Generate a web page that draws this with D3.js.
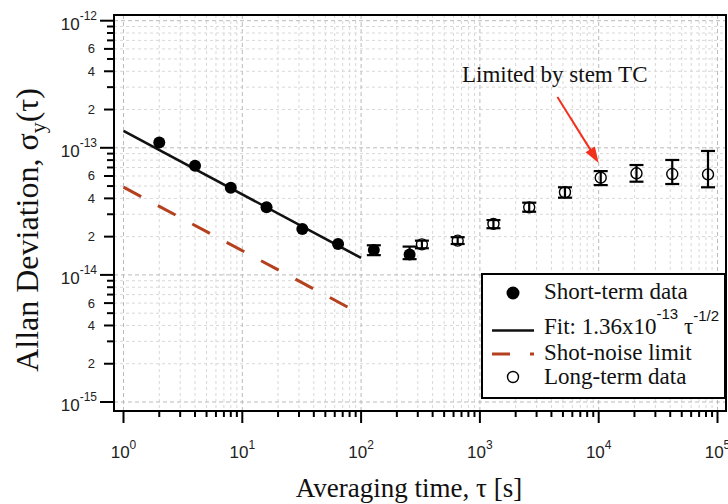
<!DOCTYPE html>
<html><head><meta charset="utf-8">
<script src="https://cdn.jsdelivr.net/npm/d3@7"></script>
<style>body{margin:0;background:#fff}svg{display:block}</style>
</head><body><svg id="c" width="728" height="504"></svg>
<script>
// ---- data ----
const shortTau   = [2, 4, 8, 16, 32, 64, 128, 256];
const shortVal   = [1.10e-13, 7.23e-14, 4.85e-14, 3.40e-14, 2.30e-14, 1.75e-14, 1.57e-14, 1.45e-14];
const shortErrLo = [null, null, null, null, null, null, 1.43e-14, 1.33e-14];
const shortErrHi = [null, null, null, null, null, null, 1.71e-14, 1.67e-14];
const longTau    = [325, 650, 1300, 2600, 5200, 10400, 20800, 41600, 83200];
const longVal    = [1.74e-14, 1.86e-14, 2.52e-14, 3.40e-14, 4.47e-14, 5.82e-14, 6.30e-14, 6.22e-14, 6.18e-14];
const longErrLo  = [1.62e-14, 1.75e-14, 2.33e-14, 3.14e-14, 4.05e-14, 5.09e-14, 5.41e-14, 5.19e-14, 4.89e-14];
const longErrHi  = [1.86e-14, 1.98e-14, 2.70e-14, 3.70e-14, 4.89e-14, 6.56e-14, 7.32e-14, 8.02e-14, 9.44e-14];
const fitTau  = [1, 100];
const fitVal  = [1.36e-13, 1.36e-14];
const shotTau = [1, 100];
const shotVal = [4.9e-14, 4.9e-15];
const xTickExps = [0, 1, 2, 3, 4, 5];
const yTickExps = [-12, -13, -14, -15];
const yMinorLabels = [2, 4, 6];
const legendLabels = ["Short-term data", "Fit: 1.36x10", "Shot-noise limit", "Long-term data"];
const annotText = "Limited by stem TC";
const annotPos = {tau: 707, val: 3.31e-13};
const arrowFrom = {tau: 4490, val: 2.51e-13};
const arrowTo = {tau: 10000, val: 7.6e-14};

// ---- layout ----
const svg = d3.select("#c");
const frame = {l: 114, t: 15, r: 726, b: 411};
const x = d3.scaleLog().domain([1, 1e5]).range([123.5, 717.5]);
const y = d3.scaleLog().domain([1e-15, 1e-12]).range([402, 20.7]);
const sans = "'Liberation Sans', Arial, sans-serif";
const serif = "'Liberation Serif', 'Times New Roman', serif";

const xMinor = [], yMinor = [];
for (let e = 0; e < 5; e++) for (let k = 2; k <= 9; k++) xMinor.push(k * Math.pow(10, e));
for (let e = -15; e < -12; e++) for (let k = 2; k <= 9; k++) yMinor.push(k * Math.pow(10, e));
const xMajor = xTickExps.map(e => Math.pow(10, e));
const yMajor = yTickExps.map(e => Math.pow(10, e));

// ---- grid ----
const grid = svg.append("g");
grid.selectAll(".gxm").data(xMinor).enter().append("line")
  .attr("x1", d => x(d)).attr("x2", d => x(d)).attr("y1", frame.t).attr("y2", frame.b)
  .attr("stroke", "#d8d8d8").attr("stroke-dasharray", "3,3").attr("stroke-width", 1);
grid.selectAll(".gym").data(yMinor).enter().append("line")
  .attr("y1", d => y(d)).attr("y2", d => y(d)).attr("x1", frame.l).attr("x2", frame.r)
  .attr("stroke", "#d8d8d8").attr("stroke-dasharray", "3,3").attr("stroke-width", 1);
grid.selectAll(".gxM").data(xMajor).enter().append("line")
  .attr("x1", d => x(d)).attr("x2", d => x(d)).attr("y1", frame.t).attr("y2", frame.b)
  .attr("stroke", "#bbbbbb").attr("stroke-dasharray", "4,3").attr("stroke-width", 1);
grid.selectAll(".gyM").data(yMajor).enter().append("line")
  .attr("y1", d => y(d)).attr("y2", d => y(d)).attr("x1", frame.l).attr("x2", frame.r)
  .attr("stroke", "#bbbbbb").attr("stroke-dasharray", "4,3").attr("stroke-width", 1);

// ---- ticks ----
const ticks = svg.append("g").attr("stroke", "#000").attr("stroke-width", 2);
ticks.selectAll(".xt").data(xMinor).enter().append("line")
  .attr("x1", d => x(d)).attr("x2", d => x(d)).attr("y1", frame.b).attr("y2", frame.b + 6);
ticks.selectAll(".xT").data(xMajor).enter().append("line")
  .attr("x1", d => x(d)).attr("x2", d => x(d)).attr("y1", frame.b).attr("y2", frame.b + 12);
ticks.selectAll(".yt").data(yMinor).enter().append("line")
  .attr("y1", d => y(d)).attr("y2", d => y(d)).attr("x1", frame.l)
  .attr("x2", d => { const k = Math.round(d / Math.pow(10, Math.floor(Math.log10(d) + 1e-9))); return yMinorLabels.includes(k) ? frame.l - 10 : frame.l - 7; });
ticks.selectAll(".yT").data(yMajor).enter().append("line")
  .attr("y1", d => y(d)).attr("y2", d => y(d)).attr("x1", frame.l).attr("x2", frame.l - 14);

// tick labels
const xl = svg.append("g").attr("font-family", sans).attr("fill", "#222");
xTickExps.forEach(e => {
  const t = xl.append("text").attr("x", x(Math.pow(10, e))).attr("y", 458).attr("text-anchor", "middle").attr("font-size", 17);
  t.append("tspan").text("10");
  t.append("tspan").attr("dy", -9).attr("font-size", 12).text(e);
});
yTickExps.forEach(e => {
  const t = xl.append("text").attr("x", 97).attr("y", y(Math.pow(10, e)) + 9).attr("text-anchor", "end").attr("font-size", 17);
  t.append("tspan").text("10");
  t.append("tspan").attr("dy", -10).attr("font-size", 12).text("-" + Math.abs(e));
});
[-15, -14, -13].forEach(e => {
  yMinorLabels.forEach(k => {
    xl.append("text").attr("x", 95).attr("y", y(k * Math.pow(10, e)) + 4.5).attr("text-anchor", "end")
      .attr("font-size", 13).text(k);
  });
});

// ---- lines ----
const line = d3.line().x(d => x(d[0])).y(d => y(d[1]));
svg.append("path").datum(shotTau.map((t, i) => [t, shotVal[i]])).attr("d", line)
  .attr("fill", "none").attr("stroke", "#b4401e").attr("stroke-width", 3).attr("stroke-dasharray", "20,19");
svg.append("path").datum(fitTau.map((t, i) => [t, fitVal[i]])).attr("d", line)
  .attr("fill", "none").attr("stroke", "#111").attr("stroke-width", 2.6);

// ---- error bars ----
function errBars(g, taus, lo, hi) {
  taus.forEach((t, i) => {
    if (lo[i] == null) return;
    const cx = x(t);
    g.append("line").attr("x1", cx).attr("x2", cx).attr("y1", y(lo[i])).attr("y2", y(hi[i]));
    g.append("line").attr("x1", cx - 7).attr("x2", cx + 7).attr("y1", y(lo[i])).attr("y2", y(lo[i]));
    g.append("line").attr("x1", cx - 7).attr("x2", cx + 7).attr("y1", y(hi[i])).attr("y2", y(hi[i]));
  });
}
svg.append("g").selectAll("circle").data(shortTau).enter().append("circle")
  .attr("cx", d => x(d)).attr("cy", (d, i) => y(shortVal[i])).attr("r", 6).attr("fill", "#000");
errBars(svg.append("g").attr("stroke", "#000").attr("stroke-width", 2.2), shortTau, shortErrLo, shortErrHi);
svg.append("g").selectAll("circle").data(longTau).enter().append("circle")
  .attr("cx", d => x(d)).attr("cy", (d, i) => y(longVal[i])).attr("r", 5.5)
  .attr("fill", "none").attr("stroke", "#000").attr("stroke-width", 1.4);
errBars(svg.append("g").attr("stroke", "#000").attr("stroke-width", 2.2), longTau, longErrLo, longErrHi);

// ---- frame ----
svg.append("rect").attr("x", frame.l).attr("y", frame.t).attr("width", frame.r - frame.l).attr("height", frame.b - frame.t)
  .attr("fill", "none").attr("stroke", "#000").attr("stroke-width", 2);

// ---- annotation ----
svg.append("text").attr("x", x(annotPos.tau)).attr("y", y(annotPos.val)).attr("font-family", serif)
  .attr("font-size", 23).attr("fill", "#111").text(annotText);
const ax1 = x(arrowFrom.tau), ay1 = y(arrowFrom.val), ax2 = x(arrowTo.tau), ay2 = y(arrowTo.val);
const ang = Math.atan2(ay2 - ay1, ax2 - ax1), hl = 16, hw = 5.5;
svg.append("line").attr("x1", ax1).attr("y1", ay1)
  .attr("x2", ax2 - Math.cos(ang) * hl * 0.8).attr("y2", ay2 - Math.sin(ang) * hl * 0.8)
  .attr("stroke", "#f2311d").attr("stroke-width", 2);
svg.append("path").attr("fill", "#f2311d").attr("d",
  `M${ax2},${ay2} L${ax2 - Math.cos(ang) * hl - Math.sin(ang) * hw},${ay2 - Math.sin(ang) * hl + Math.cos(ang) * hw} L${ax2 - Math.cos(ang) * hl + Math.sin(ang) * hw},${ay2 - Math.sin(ang) * hl - Math.cos(ang) * hw} Z`);

// ---- legend ----
const lg = svg.append("g");
lg.append("rect").attr("x", 482).attr("y", 274).attr("width", 243).attr("height", 124)
  .attr("fill", "#fff").attr("stroke", "#000").attr("stroke-width", 2);
const ly = [299, 334, 360, 384];
const lt = lg.append("g").attr("font-family", serif).attr("font-size", 23).attr("fill", "#111");
lt.append("text").attr("x", 544).attr("y", ly[0]).text(legendLabels[0]);
const ft = lt.append("text").attr("x", 544).attr("y", ly[1]);
ft.append("tspan").text(legendLabels[1]);
ft.append("tspan").attr("dy", -15).attr("font-size", 15).attr("font-family", sans).text("-13");
ft.append("tspan").attr("dy", 15).text(" \u03c4");
ft.append("tspan").attr("dy", -13).attr("font-size", 15).attr("font-family", sans).text("-1/2");
lt.append("text").attr("x", 544).attr("y", ly[2]).text(legendLabels[2]);
lt.append("text").attr("x", 544).attr("y", ly[3]).text(legendLabels[3]);
lg.append("circle").attr("cx", 513).attr("cy", 293).attr("r", 6.5).attr("fill", "#000");
lg.append("line").attr("x1", 492).attr("x2", 534).attr("y1", 330.5).attr("y2", 330.5).attr("stroke", "#111").attr("stroke-width", 2.6);
lg.append("line").attr("x1", 492).attr("x2", 534).attr("y1", 354).attr("y2", 354).attr("stroke", "#b4401e").attr("stroke-width", 3).attr("stroke-dasharray", "18,20");
lg.append("circle").attr("cx", 513).attr("cy", 377).attr("r", 5.5).attr("fill", "none").attr("stroke", "#000").attr("stroke-width", 1.4);

// ---- axis titles ----
svg.append("text").attr("x", 409).attr("y", 497).attr("text-anchor", "middle").attr("font-family", serif)
  .attr("font-size", 27).attr("fill", "#111").text("Averaging time, \u03c4 [s]");
const yt = svg.append("text").attr("transform", "translate(38,230) rotate(-90)").attr("text-anchor", "middle")
  .attr("font-family", serif).attr("font-size", 32).attr("fill", "#111");
yt.append("tspan").text("Allan Deviation, \u03c3");
yt.append("tspan").attr("dy", 7).attr("font-size", 22).text("y");
yt.append("tspan").attr("dy", -7).text("(\u03c4)");
</script></body></html>
